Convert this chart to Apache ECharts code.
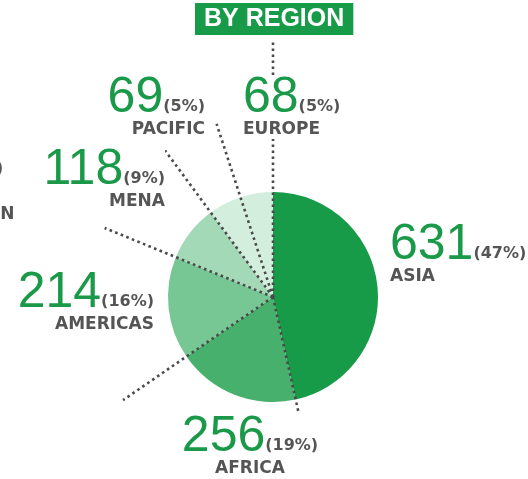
<!DOCTYPE html>
<html>
<head>
<meta charset="utf-8">
<script src="https://cdn.jsdelivr.net/npm/echarts@6/dist/echarts.min.js"></script>
<style>
    html, body { margin: 0; padding: 0; background: #fff; }
    #chart_region { width: 528px; height: 479px; }
</style>
</head>
<body>
<div id="chart_region"></div>
<script>
// data, clockwise from 12 o'clock
var regions = ['ASIA', 'AFRICA', 'AMERICAS', 'MENA', 'PACIFIC', 'EUROPE'];
var counts = [631, 256, 214, 118, 69, 68];
var shares = [47, 19, 16, 9, 5, 5];

// styling / layout
var sliceColors = ['#179b48', '#47b06c', '#77c794', '#a4d9b7', '#d4eedd', '#d4eedd'];
var green = '#1a9a49';
var grey = '#555555';
var font = 'Liberation Sans';
var boldFont = 'DejaVu Sans';
var pieCenter = [273, 297];
var labelAt = [[390, 222, 'left'], [250, 414, 'center'], [154, 270, 'right'],
    [165, 147, 'right'], [205, 75, 'right'], [243, 75, 'left']];

var chart_region = echarts.init(document.getElementById('chart_region'));

var total = counts.reduce(function (a, b) { return a + b; }, 0);

function richFor(align) {
    return {
        v: {fontFamily: font, fontSize: 50, lineHeight: 46, color: green, align: align},
        p: {fontFamily: boldFont, fontSize: 16, fontWeight: 'bold', color: grey,
            verticalAlign: 'bottom', padding: [0, 0, 6, 0], align: align},
        n: {fontFamily: boldFont, fontSize: 17, fontWeight: 'bold', lineHeight: 18, color: grey, align: align}
    };
}

var sliceData = counts.map(function (v, i) {
    return {value: v, name: regions[i], itemStyle: {color: sliceColors[i]}};
});

var labelData = counts.map(function (v, i) {
    return {value: v, name: regions[i], label: {rich: richFor(labelAt[i][2])}};
});

// dotted separators: one radial line at each slice boundary
var dividers = [];
var acc = 0;
counts.forEach(function (v, i) {
    dividers.push({
        type: 'line',
        coordinateSystem: 'polar',
        z: 3,
        silent: true,
        symbol: 'none',
        lineStyle: {color: '#4a4a4a', width: 2.6, type: [2.6, 3.4]},
        data: [[0, acc], [i === 0 ? 258 : 182, acc]]
    });
    acc += v;
});

var option = {
    animation: false,
    title: {
        text: 'BY REGION',
        left: 195,
        top: 3,
        padding: [4, 9, 3, 9],
        backgroundColor: '#179b48',
        textStyle: {color: '#fff', fontFamily: font, fontSize: 25, fontWeight: 'bold', lineHeight: 25}
    },
    polar: {center: pieCenter, radius: 260},
    angleAxis: {type: 'value', min: 0, max: total, startAngle: 90, clockwise: true, show: false},
    radiusAxis: {type: 'value', min: 0, max: 260, show: false},
    graphic: [
        {type: 'text', x: 3, y: 177, style: {text: '%)', font: 'bold 15px "DejaVu Sans"', fill: grey, align: 'right', verticalAlign: 'bottom'}},
        {type: 'text', x: 14.5, y: 223, style: {text: 'N', font: 'bold 17px "DejaVu Sans"', fill: grey, align: 'right', verticalAlign: 'bottom'}}
    ],
    series: [
        {
            name: 'slices',
            type: 'pie',
            z: 1,
            silent: true,
            center: pieCenter,
            radius: [0, 105],
            startAngle: 90,
            clockwise: true,
            label: {show: false},
            labelLine: {show: false},
            data: sliceData
        }
    ].concat(dividers).concat([
        {
            name: 'labels',
            type: 'pie',
            z: 5,
            silent: true,
            center: pieCenter,
            radius: [0, 105],
            startAngle: 90,
            clockwise: true,
            avoidLabelOverlap: false,
            itemStyle: {color: 'rgba(0,0,0,0)'},
            label: {
                show: true,
                position: 'outside',
                backgroundColor: '#fff',
                formatter: function (p) {
                    var i = p.dataIndex;
                    return '{v|' + counts[i] + '}{p|(' + shares[i] + '%)}\n{n|' + regions[i] + '}';
                }
            },
            labelLine: {show: false},
            labelLayout: function (params) {
                var at = labelAt[params.dataIndex];
                return {x: at[0], y: at[1], align: at[2], verticalAlign: 'top'};
            },
            data: labelData
        }
    ])
};
chart_region.setOption(option);

window.onresize = chart_region.resize;
</script>
</body>
</html>
